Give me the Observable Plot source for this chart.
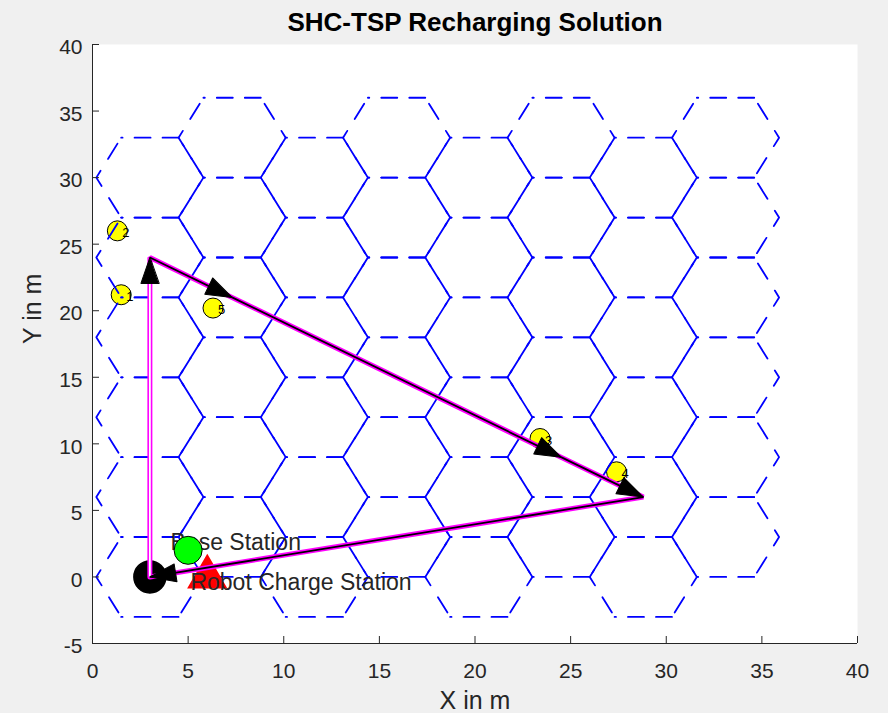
<!DOCTYPE html>
<html><head><meta charset="utf-8">
<script src="https://cdn.jsdelivr.net/npm/d3@7"></script>
<script src="https://cdn.jsdelivr.net/npm/@observablehq/plot@0.6"></script>
<style>
html,body{margin:0;padding:0;background:#f0f0f0;}
svg{display:block;}
</style></head><body><div id="chart"></div>
<script>
// ---- data ----
const xTicks = [0, 5, 10, 15, 20, 25, 30, 35, 40];
const yTicks = [-5, 0, 5, 10, 15, 20, 25, 30, 35, 40];

// hexagon cell centres (columns alternate between two row sets)
const hexColX = [3, 7.3, 11.6, 15.9, 20.2, 24.5, 28.8, 33.1];
const hexRowsEven = [0, 6, 12, 18, 24, 30];
const hexRowsOdd = [3, 9, 15, 21, 27, 33];
const hexHalfWidth = 2.8, hexHalfTop = 1.5, hexHalfHeight = 3;

// target points (yellow)
const targetX = [1.3, 1.5, 6.3, 23.4, 27.4];
const targetY = [26.0, 21.2, 20.2, 10.4, 7.9];
const targetLabel = ["2", "1", "5", "3", "4"];

// robot route
const routeX = [3, 3, 7.3, 24.5, 28.8, 3];
const routeY = [0, 24, 21, 9, 6, 0];

// stations
const baseX = [5], baseY = [2], baseLabel = ["Base Station"], baseLabelX = [4.08], baseLabelY = [2.6];
const chargeX = [6], chargeY = [0], chargeLabel = ["Robot Charge Station"], chargeLabelX = [5.12], chargeLabelY = [-0.4];
const startX = [3], startY = [0];

const titleText = "SHC-TSP Recharging Solution";
const xLabel = "X in m", yLabel = "Y in m";

// ---- layout ----
const W = 888, H = 713, mL = 92, mR = 31, mT = 44, mB = 70;
const kx = (W - mL - mR) / 40, ky = (H - mT - mB) / 45;
const FONT = "'Liberation Sans', Arial, Helvetica, sans-serif";
const TXT = "#262626";
const TICK = 7;

// build tables: horizontal edges and side polylines of every hexagon
const hexH = [], hexS = [];
hexColX.forEach((cx, i) => {
  const rows = i % 2 === 0 ? hexRowsEven : hexRowsOdd;
  const a = hexHalfWidth, b = hexHalfTop, h = hexHalfHeight;
  rows.forEach(cy => {
    const id = `${i}:${cy}`;
    [h, -h].forEach((dy, k) => [[b, dy], [-b, dy]].forEach(([px, py]) =>
      hexH.push({id: id + "h" + k, x: cx + px, y: cy + py})));
    [1, -1].forEach(s => [[s * b, h], [s * a, 0], [s * b, -h]].forEach(([px, py]) =>
      hexS.push({id: id + "s" + s, x: cx + px, y: cy + py})));
  });
});
const targets = targetX.map((x, i) => ({x, y: targetY[i], label: targetLabel[i]}));
const route = routeX.map((x, i) => ({x, y: routeY[i]}));
const segs = routeX.slice(1).map((x, i) => ({x1: routeX[i], y1: routeY[i], x2: x, y2: routeY[i + 1], first: i === 0}));

const arrowHead = {
  draw(ctx, l) {
    const w = 9;
    ctx.moveTo(0, -l);
    ctx.lineTo(-w, 0);
    ctx.lineTo(w, 0);
    ctx.closePath();
  }
};

const chart = Plot.plot({
  width: W, height: H,
  marginLeft: mL, marginRight: mR, marginTop: mT, marginBottom: mB,
  x: {domain: [0, 40]},
  y: {domain: [-5, 40]},
  style: {background: "#f0f0f0", fontFamily: FONT, overflow: "visible"},
  marks: [
    Plot.frame({fill: "white", stroke: null}),
    Plot.dot(targets, {x: "x", y: "y", r: 10, fill: "#ffff00", stroke: "black", strokeWidth: 1}),
    Plot.text(targets, {x: "x", y: "y", text: "label", dx: 5, dy: 2, fontSize: 13, fill: "black", textAnchor: "start"}),
    Plot.line(hexH, {x: "x", y: "y", z: "id", stroke: "#0000ff", strokeWidth: 1.8, strokeDasharray: "16,12", curve: "linear"}),
    Plot.line(hexS, {x: "x", y: "y", z: "id", stroke: "#0000ff", strokeWidth: 1.8, strokeDasharray: "18,14", strokeDashoffset: -7, curve: "linear"}),
    Plot.dot(startX.map((x, i) => ({x, y: startY[i]})), {x: "x", y: "y", r: 16, fill: "black", stroke: "black"}),
    Plot.dot(chargeX.map((x, i) => ({x, y: chargeY[i]})), {x: "x", y: "y", r: 14, symbol: "triangle", fill: "#ff0000", stroke: "#ff0000"}),
    Plot.line(route, {x: "x", y: "y", stroke: "#ff00ff", strokeWidth: 5, strokeLinejoin: "miter"}),
    Plot.link(segs.filter(d => d.first), {x1: "x1", y1: "y1", x2: "x2", y2: "y2", stroke: "white", strokeWidth: 1.8}),
    Plot.link(segs.filter(d => !d.first), {x1: "x1", y1: "y1", x2: "x2", y2: "y2", stroke: "black", strokeWidth: 1.8}),
    Plot.vector(segs, {x: "x2", y: "y2", rotate: d => Math.atan2((d.x2 - d.x1) * kx, (d.y2 - d.y1) * ky) * 180 / Math.PI,
      length: 26, anchor: "end", shape: arrowHead, fill: "black", stroke: "black", strokeWidth: 1}),
    Plot.text(baseLabel, {x: baseLabelX, y: baseLabelY, text: d => d, textAnchor: "start", fontSize: 23, fill: TXT}),
    Plot.dot(baseX.map((x, i) => ({x, y: baseY[i]})), {x: "x", y: "y", r: 14, fill: "#00ff00", stroke: "black", strokeWidth: 1}),
    Plot.text(chargeLabel, {x: chargeLabelX, y: chargeLabelY, text: d => d, textAnchor: "start", fontSize: 23, fill: TXT}),
    // axes (MATLAB style: left/bottom lines, inward ticks)
    Plot.ruleX([0], {stroke: TXT, strokeWidth: 1}),
    Plot.ruleY([-5], {stroke: TXT, strokeWidth: 1}),
    Plot.ruleX(xTicks, {x: d => d, y1: -5, y2: -5 + TICK / ky, stroke: TXT, strokeWidth: 1}),
    Plot.ruleY(yTicks, {y: d => d, x1: 0, x2: TICK / kx, stroke: TXT, strokeWidth: 1}),
    Plot.axisX(xTicks, {tickSize: 0, tickPadding: 20, fontSize: 21, color: TXT, label: null, tickFormat: d => String(d)}),
    Plot.axisY(yTicks, {tickSize: 0, tickPadding: 10, fontSize: 21, color: TXT, label: null, dy: 3, tickFormat: d => String(d)}),
    Plot.text([xLabel], {frameAnchor: "bottom", lineAnchor: "middle", dy: 57, fontSize: 25, fill: TXT}),
    Plot.text([yLabel], {frameAnchor: "left", lineAnchor: "middle", dx: -60, rotate: -90, fontSize: 25, fill: TXT}),
    Plot.text([titleText], {frameAnchor: "top", lineAnchor: "middle", dy: -22, fontSize: 26, fontWeight: "bold", fill: "black"})
  ]
});
document.getElementById("chart").appendChild(chart);
</script></body></html>
